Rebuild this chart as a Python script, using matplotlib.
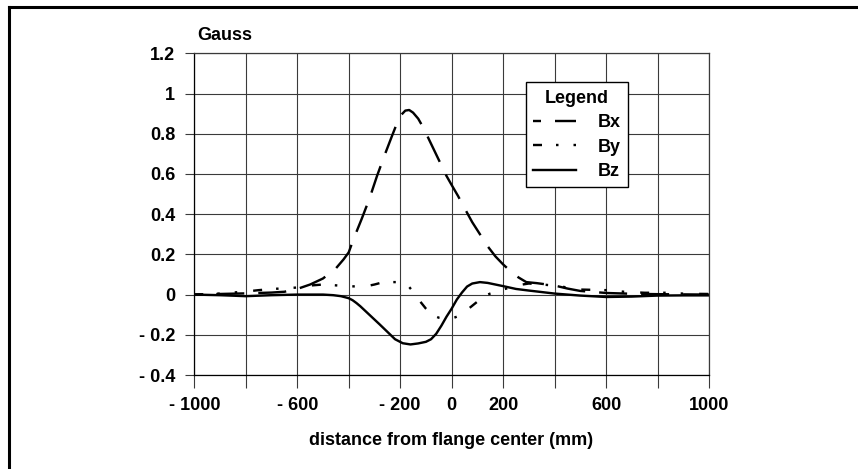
import matplotlib
matplotlib.use("Agg")
import matplotlib.pyplot as plt
from matplotlib.lines import Line2D

plt.rcParams['font.family'] = ['Liberation Sans', 'DejaVu Sans']
plt.rcParams['font.weight'] = 'bold'
plt.rcParams['lines.scale_dashes'] = False

# ---- data ----
bx_x = [-1000, -900, -800, -700, -650, -600, -550, -500, -450, -420, -400, -380, -350, -320,
        -290, -260, -230, -210, -195, -180, -165, -150, -130, -110, -80, -50, -20, 0, 25, 50,
        80, 110, 140, 170, 200, 230, 260, 290, 330, 400, 450, 500, 600, 700, 800, 900, 1000]
bx_y = [0.0, 0.003, 0.006, 0.01, 0.014, 0.028, 0.05, 0.08, 0.13, 0.175, 0.21, 0.28, 0.375, 0.475,
        0.59, 0.695, 0.795, 0.86, 0.895, 0.915, 0.918, 0.905, 0.875, 0.83, 0.75, 0.67, 0.59, 0.545,
        0.49, 0.43, 0.36, 0.30, 0.24, 0.19, 0.15, 0.115, 0.085, 0.062, 0.057, 0.045, 0.03, 0.018,
        0.008, 0.004, 0.002, 0.001, 0.0]

by_x = [-1000, -900, -800, -750, -680, -600, -550, -500, -440, -370, -330, -300, -265, -200,
        -170, -150, -125, -100, -78, -50, -20, 10, 40, 70, 100, 125, 150, 200, 250, 300, 400,
        500, 600, 670, 750, 840, 910, 1000]
by_y = [0.0, 0.005, 0.015, 0.022, 0.029, 0.035, 0.045, 0.05, 0.045, 0.04, 0.042, 0.05, 0.062, 0.062,
        0.045, 0.015, -0.03, -0.07, -0.10, -0.115, -0.12, -0.115, -0.10, -0.066, -0.035, -0.008,
        0.005, 0.025, 0.045, 0.055, 0.045, 0.025, 0.022, 0.014, 0.009, 0.009, 0.004, 0.003]

bz_x = [-1000, -900, -800, -700, -600, -500, -460, -430, -400, -385, -370, -355, -340, -310,
        -280, -250, -220, -190, -160, -130, -100, -80, -60, -40, -20, 0, 20, 40, 60, 80, 110,
        140, 170, 200, 250, 300, 400, 500, 600, 700, 800, 900, 1000]
bz_y = [0.0, -0.003, -0.008, -0.003, 0.0, 0.0, -0.003, -0.008, -0.018, -0.028, -0.042, -0.058,
        -0.076, -0.112, -0.148, -0.185, -0.222, -0.242, -0.248, -0.243, -0.235, -0.222, -0.195,
        -0.155, -0.11, -0.07, -0.025, 0.01, 0.04, 0.055, 0.062, 0.058, 0.05, 0.042, 0.028, 0.02,
        0.005, -0.005, -0.012, -0.01, -0.005, -0.004, -0.004]

x_ticks = [-1000, -800, -600, -400, -200, 0, 200, 400, 600, 800, 1000]
x_labels = ['- 1000', '', '- 600', '', '- 200', '0', '200', '', '600', '', '1000']
y_ticks = [-0.4, -0.2, 0, 0.2, 0.4, 0.6, 0.8, 1.0, 1.2]
y_labels = ['- 0.4', '- 0.2', '0', '0.2', '0.4', '0.6', '0.8', '1', '1.2']
series_names = ['Bx', 'By', 'Bz']

W, H = 858, 469
FS = 13
fig = plt.figure(figsize=(W / 100, H / 100), dpi=100)
ax = fig.add_axes([194.3 / W, 1 - 375 / H, (709 - 194.3) / W, (375 - 53.3) / H])

px = 0.72  # points per pixel
lw = 2.4 * px
ax.plot(bx_x, bx_y, color='black', lw=lw, solid_capstyle='butt', dash_capstyle='butt',
        linestyle=(20 * px, (28 * px, 14 * px)), label=series_names[0])
ax.plot(by_x, by_y, color='black', lw=lw, dash_capstyle='butt',
        linestyle=(0, (9 * px, 14 * px, 2.5 * px, 15 * px, 2.5 * px, 16 * px)), label=series_names[1])
ax.plot(bz_x, bz_y, color='black', lw=lw, linestyle='-', label=series_names[2])

ax.set_xlim(-1000, 1000)
ax.set_ylim(-0.4, 1.2)
ax.set_xticks(x_ticks)
ax.set_xticklabels(x_labels)
ax.set_yticks(y_ticks)
ax.set_yticklabels(y_labels)
ax.grid(True, color='#3a3a3a', lw=0.8)
ax.set_axisbelow(True)
for s in ax.spines.values():
    s.set_color('#3a3a3a')
    s.set_linewidth(0.9)
ax.spines['left'].set_color('black')
ax.spines['bottom'].set_color('black')
ax.tick_params(axis='x', length=13 * px, width=0.8, color='#3a3a3a', pad=9 * px, labelsize=FS)
ax.tick_params(axis='y', length=9 * px, width=0.8, color='#3a3a3a', pad=10 * px, labelsize=FS)
for t in ax.get_xticklabels() + ax.get_yticklabels():
    t.set_fontweight('bold')

fig.text(197 / W, 1 - 35.5 / H, 'Gauss', fontsize=FS, fontweight='bold', ha='left', va='center')
fig.text(451 / W, 1 - 440 / H, 'distance from flange center (mm)', fontsize=FS,
         fontweight='bold', ha='center', va='center')

leg = ax.legend(loc='upper left', bbox_to_anchor=(525.7 / W, 1 - 82.3 / H),
                bbox_transform=fig.transFigure, title='Legend', fancybox=False,
                edgecolor='black', framealpha=1, fontsize=FS, title_fontsize=FS,
                handlelength=2.4, handletextpad=1.2, labelspacing=0.42, borderpad=0.4,
                borderaxespad=0)
leg.get_title().set_fontweight('bold')
leg.get_frame().set_linewidth(1.0)
for t in leg.get_texts():
    t.set_fontweight('bold')

# figure frame (top and left edges)
fig.add_artist(Line2D([9 / W, 1], [1 - 7 / H, 1 - 7 / H], transform=fig.transFigure,
                      color='black', lw=2.2))
fig.add_artist(Line2D([9 / W, 9 / W], [0, 1 - 7 / H], transform=fig.transFigure,
                      color='black', lw=2.2))

fig.savefig('out.png', dpi=100)
